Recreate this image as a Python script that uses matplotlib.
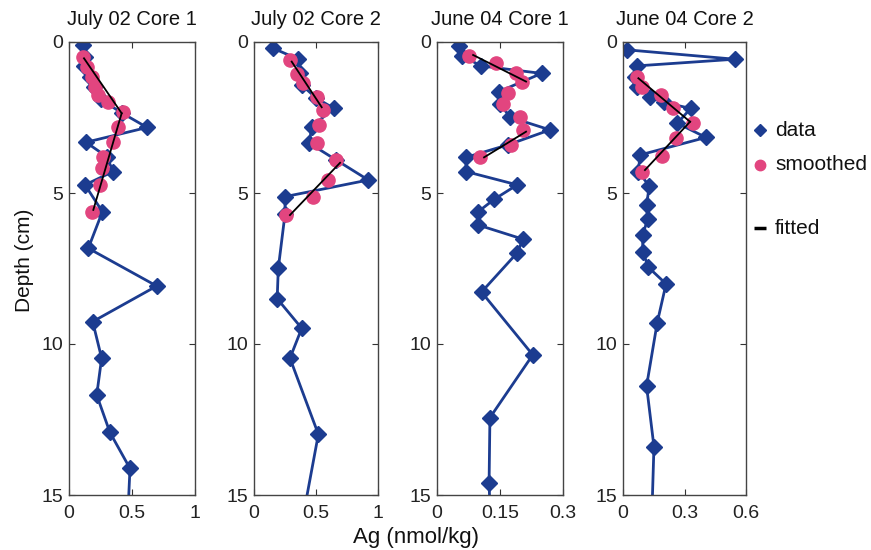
import matplotlib
matplotlib.use("Agg")
import matplotlib.pyplot as plt
from matplotlib.lines import Line2D

plt.rcParams['font.family'] = ['Liberation Sans', 'DejaVu Sans']
plt.rcParams['font.size'] = 14

blue = '#1c3c90'
pink = '#e2457f'

titles = ['July 02 Core 1', 'July 02 Core 2', 'June 04 Core 1', 'June 04 Core 2']
xlims = [1.0, 1.0, 0.3, 0.6]
xticks = [[0, 0.5, 1], [0, 0.5, 1], [0, 0.15, 0.3], [0, 0.3, 0.6]]
xticklabels = [['0', '0.5', '1'], ['0', '0.5', '1'], ['0', '0.15', '0.3'], ['0', '0.3', '0.6']]

# measured Ag profiles (depth in cm, Ag in nmol/kg)
j02c1_depth = [0.1, 0.5, 0.8, 1.15, 1.5, 1.9, 2.35, 2.83, 3.32, 3.8, 4.29, 4.73, 5.62,
               6.83, 8.08, 9.26, 10.47, 11.69, 12.93, 14.12, 15.4]
j02c1_ag = [0.11, 0.13, 0.12, 0.17, 0.2, 0.25, 0.42, 0.62, 0.135, 0.3, 0.35, 0.127, 0.265,
            0.153, 0.696, 0.188, 0.259, 0.22, 0.325, 0.484, 0.47]

j02c2_depth = [0.21, 0.57, 1.04, 1.42, 1.85, 2.2, 2.8, 3.35, 3.9, 4.57, 5.12, 5.7,
               7.49, 8.5, 9.48, 10.47, 12.99, 15.4]
j02c2_ag = [0.156, 0.357, 0.371, 0.384, 0.5, 0.645, 0.465, 0.446, 0.66, 0.922, 0.25, 0.25,
            0.196, 0.187, 0.385, 0.29, 0.519, 0.41]

j04c1_depth = [0.13, 0.45, 0.79, 1.04, 1.64, 2.05, 2.49, 2.91, 3.4, 3.82, 4.29, 4.73,
               5.21, 5.62, 6.06, 6.53, 6.98, 8.28, 10.36, 12.44, 14.61, 15.4]
j04c1_ag = [0.053, 0.06, 0.104, 0.249, 0.148, 0.15, 0.174, 0.269, 0.17, 0.069, 0.069, 0.191,
            0.136, 0.098, 0.098, 0.205, 0.191, 0.106, 0.228, 0.126, 0.124, 0.126]

j04c2_depth = [0.26, 0.57, 0.79, 1.15, 1.48, 1.81, 2.0, 2.2, 2.69, 3.16, 3.74, 4.29, 4.77,
               5.4, 5.87, 6.39, 6.94, 7.46, 8.01, 9.29, 11.39, 13.4, 15.4]
j04c2_ag = [0.021, 0.546, 0.07, 0.06, 0.067, 0.132, 0.2, 0.33, 0.265, 0.405, 0.083, 0.075,
            0.128, 0.115, 0.12, 0.096, 0.096, 0.124, 0.21, 0.167, 0.115, 0.151, 0.142]

# smoothed profiles (surface layers only)
j02c1_sm_depth = [0.49, 0.82, 1.15, 1.48, 1.75, 1.98, 2.31, 2.8, 3.3, 3.8, 4.18, 4.73, 5.62]
j02c1_sm_ag = [0.114, 0.14, 0.18, 0.206, 0.233, 0.312, 0.431, 0.392, 0.352, 0.272, 0.259,
               0.246, 0.18]

j02c2_sm_depth = [0.6, 1.05, 1.37, 1.81, 2.25, 2.75, 3.33, 3.91, 4.57, 5.12, 5.73]
j02c2_sm_ag = [0.29, 0.344, 0.398, 0.505, 0.559, 0.527, 0.511, 0.661, 0.6, 0.478, 0.258]

j04c1_sm_depth = [0.46, 0.71, 1.04, 1.31, 1.7, 2.05, 2.49, 2.91, 3.41, 3.82]
j04c1_sm_ag = [0.075, 0.14, 0.188, 0.202, 0.17, 0.158, 0.198, 0.205, 0.175, 0.102]

j04c2_sm_depth = [1.15, 1.48, 1.76, 2.2, 2.67, 3.19, 3.77, 4.29]
j04c2_sm_ag = [0.07, 0.091, 0.184, 0.245, 0.34, 0.259, 0.189, 0.091]

# fitted segments: (depth pair, Ag pair)
j02c1_fit = [([0.54, 2.36], [0.119, 0.418]), ([2.36, 5.56], [0.418, 0.193])]
j02c2_fit = [([0.65, 2.16], [0.304, 0.546]), ([4.0, 5.73], [0.694, 0.29])]
j04c1_fit = [([0.43, 1.31], [0.086, 0.212]), ([2.97, 3.82], [0.212, 0.112])]
j04c2_fit = [([1.2, 2.64], [0.075, 0.327]), ([2.64, 4.24], [0.327, 0.107])]

cores = [
    (j02c1_depth, j02c1_ag, j02c1_sm_depth, j02c1_sm_ag, j02c1_fit),
    (j02c2_depth, j02c2_ag, j02c2_sm_depth, j02c2_sm_ag, j02c2_fit),
    (j04c1_depth, j04c1_ag, j04c1_sm_depth, j04c1_sm_ag, j04c1_fit),
    (j04c2_depth, j04c2_ag, j04c2_sm_depth, j04c2_sm_ag, j04c2_fit),
]

fig = plt.figure(figsize=(8.71, 5.5), dpi=100)
lefts = [69, 254, 437, 623]
widths = [126, 124, 126, 123]

for i, (dep, ag, sdep, sag, fit) in enumerate(cores):
    ax = fig.add_axes([lefts[i] / 871, 55 / 550, widths[i] / 871, 453 / 550])
    ax.plot(ag, dep, color=blue, lw=2, marker='D', ms=8.5, mfc=blue, mec=blue, zorder=2)
    ax.plot(sag, sdep, ls='none', marker='o', ms=9.5, color=pink, zorder=3)
    for fd, fa in fit:
        ax.plot(fa, fd, color='black', lw=1.3, zorder=4)
    ax.set_xlim(0, xlims[i])
    ax.set_ylim(15, 0)
    ax.set_xticks(xticks[i])
    ax.set_xticklabels(xticklabels[i])
    ax.set_yticks([0, 5, 10, 15])
    ax.tick_params(direction='in', length=4, width=0.8, top=True, right=True,
                   labelsize=14, colors='#333333', labelcolor='#222222')
    ax.tick_params(axis='x', pad=7)
    ax.tick_params(axis='y', pad=4)
    for sp in ax.spines.values():
        sp.set_color('#444444')
        sp.set_linewidth(1.0)
    ax.set_title(titles[i], fontsize=14.5, pad=12, color='#111111')

fig.text(25 / 871, 1 - 260 / 550, 'Depth (cm)', rotation=90, ha='center', va='center',
         fontsize=15, color='#111111')
fig.text(416 / 871, 1 - 538 / 550, 'Ag (nmol/kg)', ha='center', va='center',
         fontsize=16, color='#111111')

# legend drawn by hand to keep the uneven spacing
leg_x = 760 / 871
items = [(130, 'data', dict(marker='D', ms=6, color=blue)),
         (165, 'smoothed', dict(marker='o', ms=7.5, color=pink)),
         (228, 'fitted', dict(marker='_', ms=9, mew=2.5, color='black'))]
for y, label, style in items:
    fy = 1 - y / 550
    fig.add_artist(Line2D([leg_x], [fy], ls='none', transform=fig.transFigure, **style))
    fig.text(775 / 871, fy, label, ha='left', va='center', fontsize=15, color='#111111')

fig.savefig('out.png', dpi=100, facecolor='white')
